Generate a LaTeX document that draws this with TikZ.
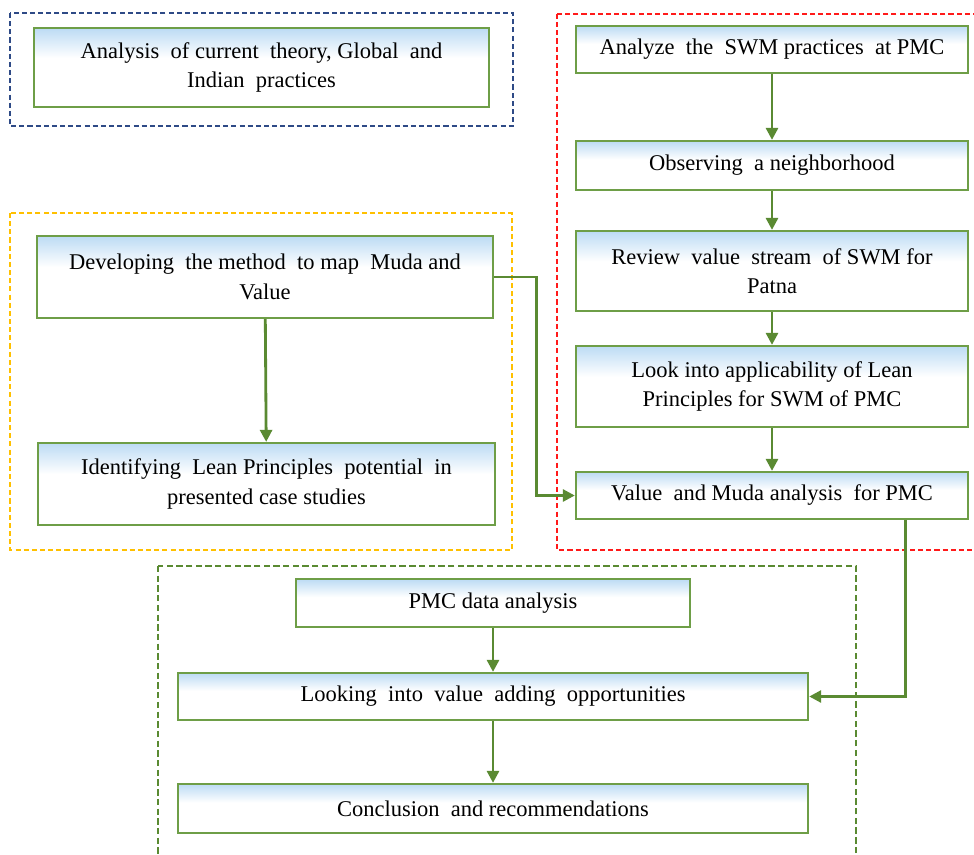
\documentclass[tikz,border=0pt]{standalone}
\usepackage{fontspec}
\setmainfont{Liberation Serif}
\usepackage{tikz}
\usetikzlibrary{arrows.meta,positioning,calc}
\usepackage{xcolor}
\definecolor{stepgreen}{HTML}{6E9E47}
\definecolor{flowgreen}{HTML}{5A8A32}
\definecolor{stepsky}{HTML}{BCDBF4}
\definecolor{grpnavy}{HTML}{2E4A86}
\definecolor{grpamber}{HTML}{FFC000}
\definecolor{grpred}{HTML}{FF1A1A}
\definecolor{grpgreen}{HTML}{5A8A32}

\pgfdeclareverticalshading{stepfade}{100bp}{color(0bp)=(white); color(25bp)=(white); color(56bp)=(white); color(75bp)=(stepsky); color(100bp)=(stepsky)}

\begin{document}
\begin{tikzpicture}[
  x=0.025cm, y=-0.025cm,
  font=\fontsize{16}{21}\selectfont,
  >=Stealth,
  stepbox/.style={
    draw=stepgreen,
    line width=1.6pt,
    shade,
    shading=stepfade,
    align=center,
    inner sep=2pt
  },
  flow/.style={
    draw=flowgreen,
    line width=2pt,
    -{Triangle[length=8.5pt,width=8.5pt]}
  },
  grp/.style={
    line width=0.9pt,
    dash pattern=on 3.6pt off 2.2pt
  }
]
  \useasboundingbox (0,0) rectangle (974,855);

  % Group frames
  \draw[grp, grpnavy] (10,13) rectangle (513,126);
  \draw[grp, grpamber] (10,213) rectangle (512,550);
  \draw[grp, grpred] (557,14) rectangle (990,550);
  \draw[grp, grpgreen, dash pattern=on 4.5pt off 2.4pt] (158,566) rectangle (856,870);

  % Left column: literature and method
  \node[stepbox, minimum width=11.375cm, minimum height=1.975cm] (lit) at (261.5,67.5)
    {Analysis \ of current \ theory, Global \ and\\Indian \ practices};
  \node[stepbox, minimum width=11.4cm, minimum height=2.05cm] (method) at (265,277)
    {Developing \ the method \ to map \ Muda and\\Value};
  \node[stepbox, minimum width=11.425cm, minimum height=2.05cm] (cases) at (266.5,484)
    {Identifying \ Lean Principles \ potential \ in\\presented case studies};

  % Right column: Patna study
  \node[stepbox, minimum width=9.8cm, minimum height=1.175cm] (swm) at (772,49.5)
    {Analyze \ the \ SWM practices \ at PMC};
  \node[stepbox, minimum width=9.8cm, minimum height=1.225cm] (observe) at (772,165.5)
    {Observing \ a neighborhood};
  \node[stepbox, minimum width=9.8cm, minimum height=2.0cm] (stream) at (772,271)
    {Review \ value \ stream \ of SWM for\\Patna};
  \node[stepbox, minimum width=9.8cm, minimum height=2.025cm] (lean) at (772,386.5)
    {Look into applicability of Lean\\Principles for SWM of PMC};
  \node[stepbox, minimum width=9.8cm, minimum height=1.175cm] (muda) at (772,495.5)
    {Value \ and Muda analysis \ for PMC};

  % Bottom block: synthesis
  \node[stepbox, minimum width=9.85cm, minimum height=1.2cm] (data) at (493,603)
    {PMC data analysis};
  \node[stepbox, minimum width=15.75cm, minimum height=1.175cm] (adding) at (493,696.5)
    {Looking \ into \ value \ adding \ opportunities};
  \node[stepbox, minimum width=15.75cm, minimum height=1.225cm] (concl) at (493,808.5)
    {Conclusion \ and recommendations};

  % Connectors
  \draw[flow] (swm) -- (observe);
  \draw[flow] (observe) -- (stream);
  \draw[flow] (stream) -- (lean);
  \draw[flow] (lean) -- (muda);
  \draw[flow] (method) -- (cases);
  \draw[flow] (method.east) -- ++(42,0) |- (muda.west);
  \draw[flow] ($(muda.south east)+(-64,0)$) |- (adding.east);
  \draw[flow] (data) -- (adding);
  \draw[flow] (adding) -- (concl);

\end{tikzpicture}
\end{document}
